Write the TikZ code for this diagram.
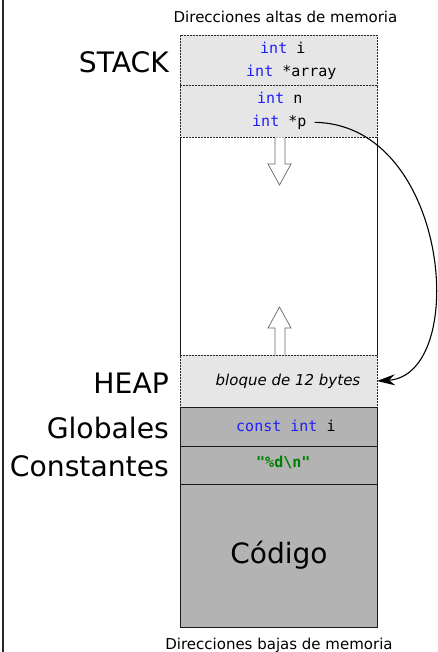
\documentclass[tikz,border=0pt]{standalone}
\usepackage{fontspec}
\setmainfont{DejaVu Sans}
\setmonofont{DejaVu Sans Mono}
\usetikzlibrary{arrows.meta}
\definecolor{lightfill}{HTML}{E6E6E6}
\definecolor{darkfill}{HTML}{B3B3B3}
\definecolor{kw}{RGB}{30,30,255}
\definecolor{strc}{RGB}{0,128,0}
\newcommand{\kw}[1]{{\color{kw}#1}}
\begin{document}
\begin{tikzpicture}[x=1pt,y=-1pt,
  blk/.style={minimum width=197pt, inner sep=0pt, outer sep=0pt, anchor=north west},
  lightblk/.style={blk, fill=lightfill, draw=black!85, dash pattern=on 2pt off 1pt, line width=0.8pt},
  darkblk/.style={blk, fill=darkfill, draw=black!90, line width=1pt},
  codetxt/.style={font=\fontsize{15}{18}\selectfont\ttfamily, anchor=base west, inner sep=0pt},
  lbl/.style={font=\fontsize{28.2}{32}\selectfont, anchor=base east, inner sep=0pt},
  addr/.style={font=\fontsize{15}{18}\selectfont, anchor=base, inner sep=0pt},
  growarrow/.style={draw=black!60, fill=white, line width=0.7pt},
]
\useasboundingbox (0,0) rectangle (437,652);
\fill[white] (0,0) rectangle (437,652);
\draw[line width=1.6pt, black!85] (2.8,0) -- (2.8,652);

% free region
\node[blk, minimum height=218pt] (free) at (180,137) {};
\draw[line width=1pt, black!90] (free.north west) -- (free.south west);
\draw[line width=1pt, black!90] (free.north east) -- (free.south east);

% stack
\node[lightblk, minimum height=50pt] (s1) at (180,35) {};
\node[lightblk, minimum height=52pt] (s2) at (180,85) {};
% heap
\node[lightblk, minimum height=52pt] (heap) at (180,355) {};
% dark blocks
\node[darkblk, minimum height=39pt] (glob) at (180,407) {};
\node[darkblk, minimum height=38pt] (cons) at (180,446) {};
\node[darkblk, minimum height=143pt] (code) at (180,484) {};

% addresses
\node[addr] (top) at (285.5,22.5) {Direcciones altas de memoria};
\node[addr] (bot) at (279,649.5) {Direcciones bajas de memoria};

% labels
\node[lbl] (lstack) at (169,72.5) {STACK};
\node[lbl] (lheap) at (169,393) {HEAP};
\node[lbl] (lglob) at (169,438) {Globales};
\node[lbl] (lcons) at (169,476) {Constantes};

% code text
\node[codetxt] (vi) at (260,54) {\kw{int} i};
\node[codetxt] (varr) at (246,77) {\kw{int} *array};
\node[codetxt] (vn) at (257,104) {\kw{int} n};
\node[codetxt] (vp) at (252,126.5) {\kw{int} *p};
\node[codetxt] (vc) at (236,431.5) {\kw{const} \kw{int} i};
\node[codetxt] (vs) at (256,467) {\color{strc}\bfseries "\%d\textbackslash n"};
\node[font=\fontsize{15}{18}\selectfont\itshape, anchor=base, inner sep=0pt] (blq) at (288,385) {bloque de 12 bytes};
\node[font=\fontsize{28}{32}\selectfont, anchor=base, inner sep=0pt] (lcode) at (279,563) {Código};

% growth arrows
\draw[growarrow] (275,137.5) -- (275,164) -- (268,164) -- (279.5,185) -- (291,164) -- (285,164) -- (285,137.5);
\draw[growarrow] (275,354.5) -- (275,328) -- (268,328) -- (279.5,307) -- (291,328) -- (285,328) -- (285,354.5);

% pointer
\coordinate (pstart) at ([xshift=8pt]vp.east);
\coordinate (ptarget) at (heap.east);
\draw[line width=1.1pt, -{Stealth[length=18pt,width=11pt,inset=6pt]}] (pstart) .. controls (450,124) and (470,375) .. (ptarget);
\end{tikzpicture}
\end{document}
